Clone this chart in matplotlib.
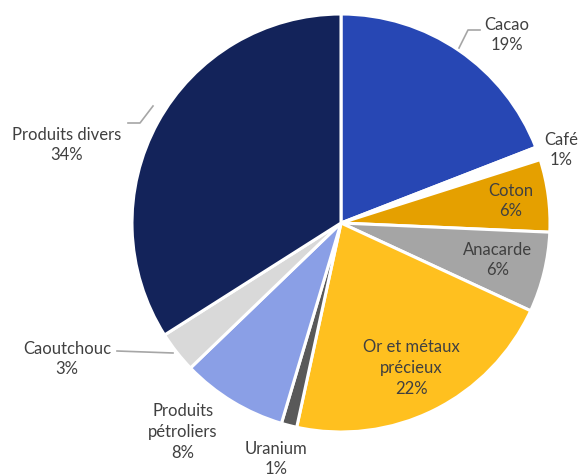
import matplotlib
matplotlib.use('Agg')
import matplotlib.pyplot as plt

# Exports by product (share of total, %)
products = ['Cacao', 'Café', 'Coton', 'Anacarde', 'Or et métaux\nprécieux',
            'Uranium', 'Produits\npétroliers', 'Caoutchouc', 'Produits divers']
shares = [19.1, 1.0, 5.6, 6.2, 21.5, 1.2, 8.2, 3.2, 34.0]
colors = ['#2747B4', '#FFFFFF', '#E5A000', '#A5A5A5', '#FFC01F',
          '#595959', '#8A9FE6', '#D9D9D9', '#13235A']

# label block centres (pixels, y from top)
label_pos = [(507, 35), (561, 150), (511, 201), (498, 260), (411, 368),
             (276, 459), (183, 432), (67, 359), (67, 145)]

W, H = 579, 474
fig = plt.figure(figsize=(W / 100, H / 100), dpi=100)
ax = fig.add_axes([0, 0, 1, 1])

cx, cy, r = 341, H - 223, 209
ax.pie(shares, colors=colors, startangle=90, counterclock=False,
       center=(cx, cy), radius=r, frame=True,
       wedgeprops={'edgecolor': 'white', 'linewidth': 2.2})
ax.set_xlim(0, W)
ax.set_ylim(0, H)
ax.set_aspect('equal')
ax.axis('off')

for name, val, (x, y) in zip(products, shares, label_pos):
    ax.text(x, H - y, f'{name}\n{round(val)}%', ha='center', va='center',
            fontsize=12, color='#404040', family='Lato', linespacing=1.38)

# leader lines
leaders = [
    [(459, 48), (468, 30), (480, 30)],
    [(128, 123), (140, 123), (153, 106)],
    [(117, 351), (173, 353)],
]
for pts in leaders:
    xs = [p[0] for p in pts]
    ys = [H - p[1] for p in pts]
    ax.plot(xs, ys, color='#A6A6A6', lw=1.2)

plt.savefig('out.png', dpi=100)
